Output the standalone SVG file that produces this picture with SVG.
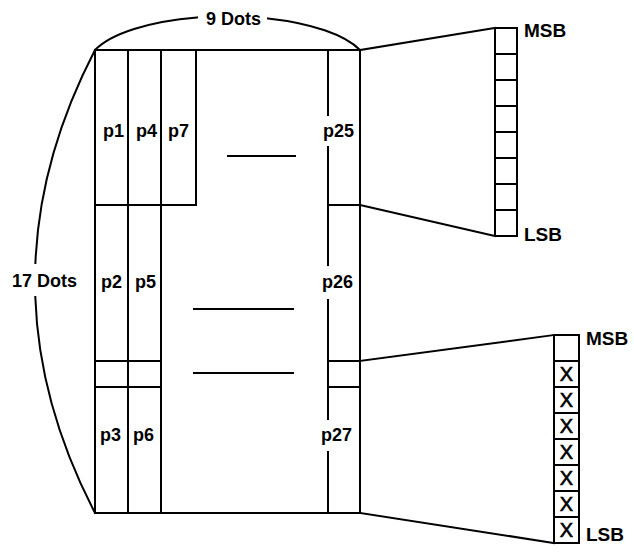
<svg xmlns="http://www.w3.org/2000/svg" width="634" height="554" viewBox="0 0 634 554">
<style>
.ln{stroke:#000;stroke-width:2;fill:none;stroke-linecap:square}
.bx{stroke:#000;stroke-width:2;fill:#fff}
.t{font-family:"Liberation Sans",Arial,sans-serif;font-weight:bold;font-size:18px;fill:#000}
.b{font-size:19px}
.x{font-family:"Liberation Sans",Arial,sans-serif;font-size:20px;fill:#000;stroke:#000;stroke-width:0.6;text-anchor:middle}
</style>
<rect width="634" height="554" fill="#fff"/>
<g id="connectors">
<path class="ln" d="M95,50 A140,50 0 0,1 197,17.4"/>
<path class="ln" d="M268,18.4 A140,50 0 0,1 360,50"/>
<path class="ln" d="M95,50 Q39.8,156.5 35.4,263"/>
<path class="ln" d="M35.3,297 Q39,405 95,513"/>
<line class="ln" x1="360" y1="50" x2="495" y2="28"/>
<line class="ln" x1="360" y1="205" x2="495" y2="236"/>
<line class="ln" x1="360" y1="361" x2="554" y2="335"/>
<line class="ln" x1="360" y1="513" x2="554" y2="543"/>
</g>
<g id="dot-matrix">
<rect class="bx" x="95" y="50" width="265" height="463"/>
<line class="ln" x1="128" y1="50" x2="128" y2="513"/>
<line class="ln" x1="161" y1="50" x2="161" y2="513"/>
<line class="ln" x1="196" y1="50" x2="196" y2="205"/>
<line class="ln" x1="95" y1="205" x2="196" y2="205"/>
<line class="ln" x1="95" y1="361" x2="161" y2="361"/>
<line class="ln" x1="95" y1="387" x2="161" y2="387"/>
<line class="ln" x1="328" y1="50" x2="328" y2="115"/>
<line class="ln" x1="328" y1="147" x2="328" y2="265"/>
<line class="ln" x1="328" y1="300" x2="328" y2="419"/>
<line class="ln" x1="328" y1="452" x2="328" y2="513"/>
<line class="ln" x1="328" y1="205" x2="360" y2="205"/>
<line class="ln" x1="328" y1="361" x2="360" y2="361"/>
<line class="ln" x1="328" y1="387" x2="360" y2="387"/>
<line class="ln" x1="228" y1="156" x2="295" y2="156"/>
<line class="ln" x1="194" y1="309" x2="293" y2="309"/>
<line class="ln" x1="194" y1="373" x2="293" y2="373"/>
<text class="t" x="103" y="137">p1</text>
<text class="t" x="136" y="137">p4</text>
<text class="t" x="168" y="137">p7</text>
<text class="t" x="323" y="137">p25</text>
<text class="t" x="101" y="288">p2</text>
<text class="t" x="135" y="288">p5</text>
<text class="t" x="322" y="288">p26</text>
<text class="t" x="100" y="441">p3</text>
<text class="t" x="133" y="441">p6</text>
<text class="t" x="321" y="441">p27</text>
<text class="t" x="12" y="287">17 Dots</text>
<text class="t" x="233.5" y="25" text-anchor="middle" font-size="18.5">9 Dots</text>
</g>
<g id="register-top">
<rect class="bx" x="495" y="28" width="22" height="208"/>
<line class="ln" x1="495" y1="54" x2="517" y2="54"/>
<line class="ln" x1="495" y1="80" x2="517" y2="80"/>
<line class="ln" x1="495" y1="106" x2="517" y2="106"/>
<line class="ln" x1="495" y1="132" x2="517" y2="132"/>
<line class="ln" x1="495" y1="158" x2="517" y2="158"/>
<line class="ln" x1="495" y1="184" x2="517" y2="184"/>
<line class="ln" x1="495" y1="210" x2="517" y2="210"/>
<text class="t b" x="524" y="37">MSB</text>
<text class="t b" x="524" y="241">LSB</text>
</g>
<g id="register-bottom">
<rect class="bx" x="554" y="335" width="25" height="208"/>
<line class="ln" x1="554" y1="361" x2="579" y2="361"/>
<line class="ln" x1="554" y1="387" x2="579" y2="387"/>
<line class="ln" x1="554" y1="413" x2="579" y2="413"/>
<line class="ln" x1="554" y1="439" x2="579" y2="439"/>
<line class="ln" x1="554" y1="465" x2="579" y2="465"/>
<line class="ln" x1="554" y1="491" x2="579" y2="491"/>
<line class="ln" x1="554" y1="517" x2="579" y2="517"/>
<text class="x" x="566.5" y="381">X</text>
<text class="x" x="566.5" y="407">X</text>
<text class="x" x="566.5" y="433">X</text>
<text class="x" x="566.5" y="459">X</text>
<text class="x" x="566.5" y="485">X</text>
<text class="x" x="566.5" y="511">X</text>
<text class="x" x="566.5" y="537">X</text>
<text class="t b" x="586" y="345">MSB</text>
<text class="t b" x="586" y="541">LSB</text>
</g>
</svg>
